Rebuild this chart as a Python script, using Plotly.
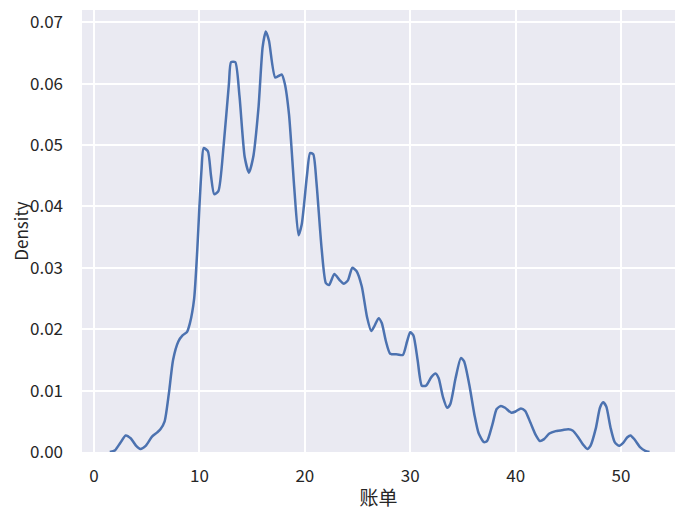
import plotly.graph_objects as go

# KDE curve of 账单 (bill)
bill = [1.5, 2.0, 2.5, 3.0, 3.5, 4.0, 4.4, 4.9, 5.5, 6.0, 6.3, 6.7, 7.1, 7.5, 8.0, 8.4, 8.8, 9.1, 9.5,
        9.8, 10.0, 10.2, 10.4, 10.8, 11.1, 11.4, 11.8, 12.3, 12.8, 13.0, 13.4, 13.8, 14.3, 14.7, 15.1,
        15.6, 16.0, 16.3, 16.6, 17.2, 17.8, 18.1, 18.5, 19.0, 19.4, 19.7, 20.2, 20.5, 20.8, 21.1,
        21.6, 22.0, 22.3, 22.8, 23.3, 23.7, 24.1, 24.5, 24.9, 25.4, 25.9, 26.3, 26.6, 27.0, 27.3,
        27.7, 28.1, 28.8, 29.3, 29.7, 30.0, 30.3, 30.7, 31.1, 31.5, 32.0, 32.4, 32.7, 33.1, 33.5,
        33.8, 34.3, 34.8, 35.1, 35.6, 36.1, 36.5, 37.0, 37.3, 37.8, 38.2, 38.6, 39.0, 39.6, 40.0,
        40.5, 40.9, 41.4, 41.9, 42.3, 42.7, 43.2, 43.8, 44.5, 45.0, 45.4, 45.9, 46.4, 46.8, 47.1,
        47.6, 48.0, 48.3, 48.6, 49.0, 49.4, 49.8, 50.2, 50.6, 50.9, 51.3, 51.8, 52.3, 52.7]
density = [0.0, 0.0003, 0.0015, 0.0027, 0.0022, 0.001, 0.0005, 0.001, 0.0025, 0.0032, 0.0037, 0.005,
           0.0095, 0.015, 0.018, 0.019, 0.0195, 0.021, 0.025, 0.033, 0.040, 0.046, 0.0495, 0.049,
           0.045, 0.042, 0.0425, 0.050, 0.060, 0.0635, 0.0635, 0.058, 0.048, 0.0455, 0.048, 0.056,
           0.066, 0.0685, 0.067, 0.061, 0.0615, 0.060, 0.055, 0.043, 0.0353, 0.037, 0.045, 0.0487,
           0.0485, 0.044, 0.033, 0.0275, 0.0272, 0.029, 0.028, 0.0274, 0.028, 0.030, 0.0295, 0.027,
           0.022, 0.0197, 0.0205, 0.0218, 0.021, 0.018, 0.016, 0.0159, 0.0158, 0.018, 0.0195, 0.019,
           0.015, 0.0108, 0.0108, 0.0122, 0.0128, 0.012, 0.009, 0.0072, 0.0078, 0.012, 0.0153,
           0.0148, 0.011, 0.006, 0.003, 0.0016, 0.0018, 0.0045, 0.007, 0.0075, 0.0072, 0.0064,
           0.0066, 0.0071, 0.0067, 0.0048, 0.0028, 0.0018, 0.0021, 0.003, 0.0034, 0.0036, 0.0037,
           0.0035, 0.0025, 0.0012, 0.0005, 0.001, 0.0038, 0.0072, 0.0081, 0.0074, 0.004, 0.0016,
           0.001, 0.0015, 0.0024, 0.0027, 0.002, 0.0008, 0.0002, 0.0]

x_ticks = [0, 10, 20, 30, 40, 50]
y_ticks = [0.0, 0.01, 0.02, 0.03, 0.04, 0.05, 0.06, 0.07]

font = "Noto Sans CJK SC"

fig = go.Figure()
fig.add_trace(go.Scatter(x=bill, y=density, mode='lines', line=dict(color='#4C72B0', width=2.5,
                                                                        shape='spline', smoothing=0.6)))
# the page body adds 8px of margin, so the figure is 8px smaller than the window
fig.update_layout(
    width=675,
    height=506,
    margin=dict(l=74, r=8, t=2, b=62),
    paper_bgcolor='white',
    plot_bgcolor='#EAEAF2',
    font=dict(family=font, size=17, color='#262626'),
    showlegend=False,
    xaxis=dict(
        title=dict(text='账单', font=dict(size=19), standoff=5),
        range=[-1.14, 55.12],
        tickvals=x_ticks,
        gridcolor='white',
        gridwidth=1.5,
        zeroline=False,
        showline=False,
        ticks='',
        ticklabelstandoff=12,
        automargin=False,
    ),
    yaxis=dict(
        title=dict(text='Density', font=dict(size=17), standoff=0),
        range=[0, 0.072],
        tickvals=y_ticks,
        tickformat='.2f',
        gridcolor='white',
        gridwidth=1.5,
        zeroline=False,
        showline=False,
        ticks='',
        ticklabelstandoff=18,
        automargin=False,
    ),
)

fig.write_html("out.html")
